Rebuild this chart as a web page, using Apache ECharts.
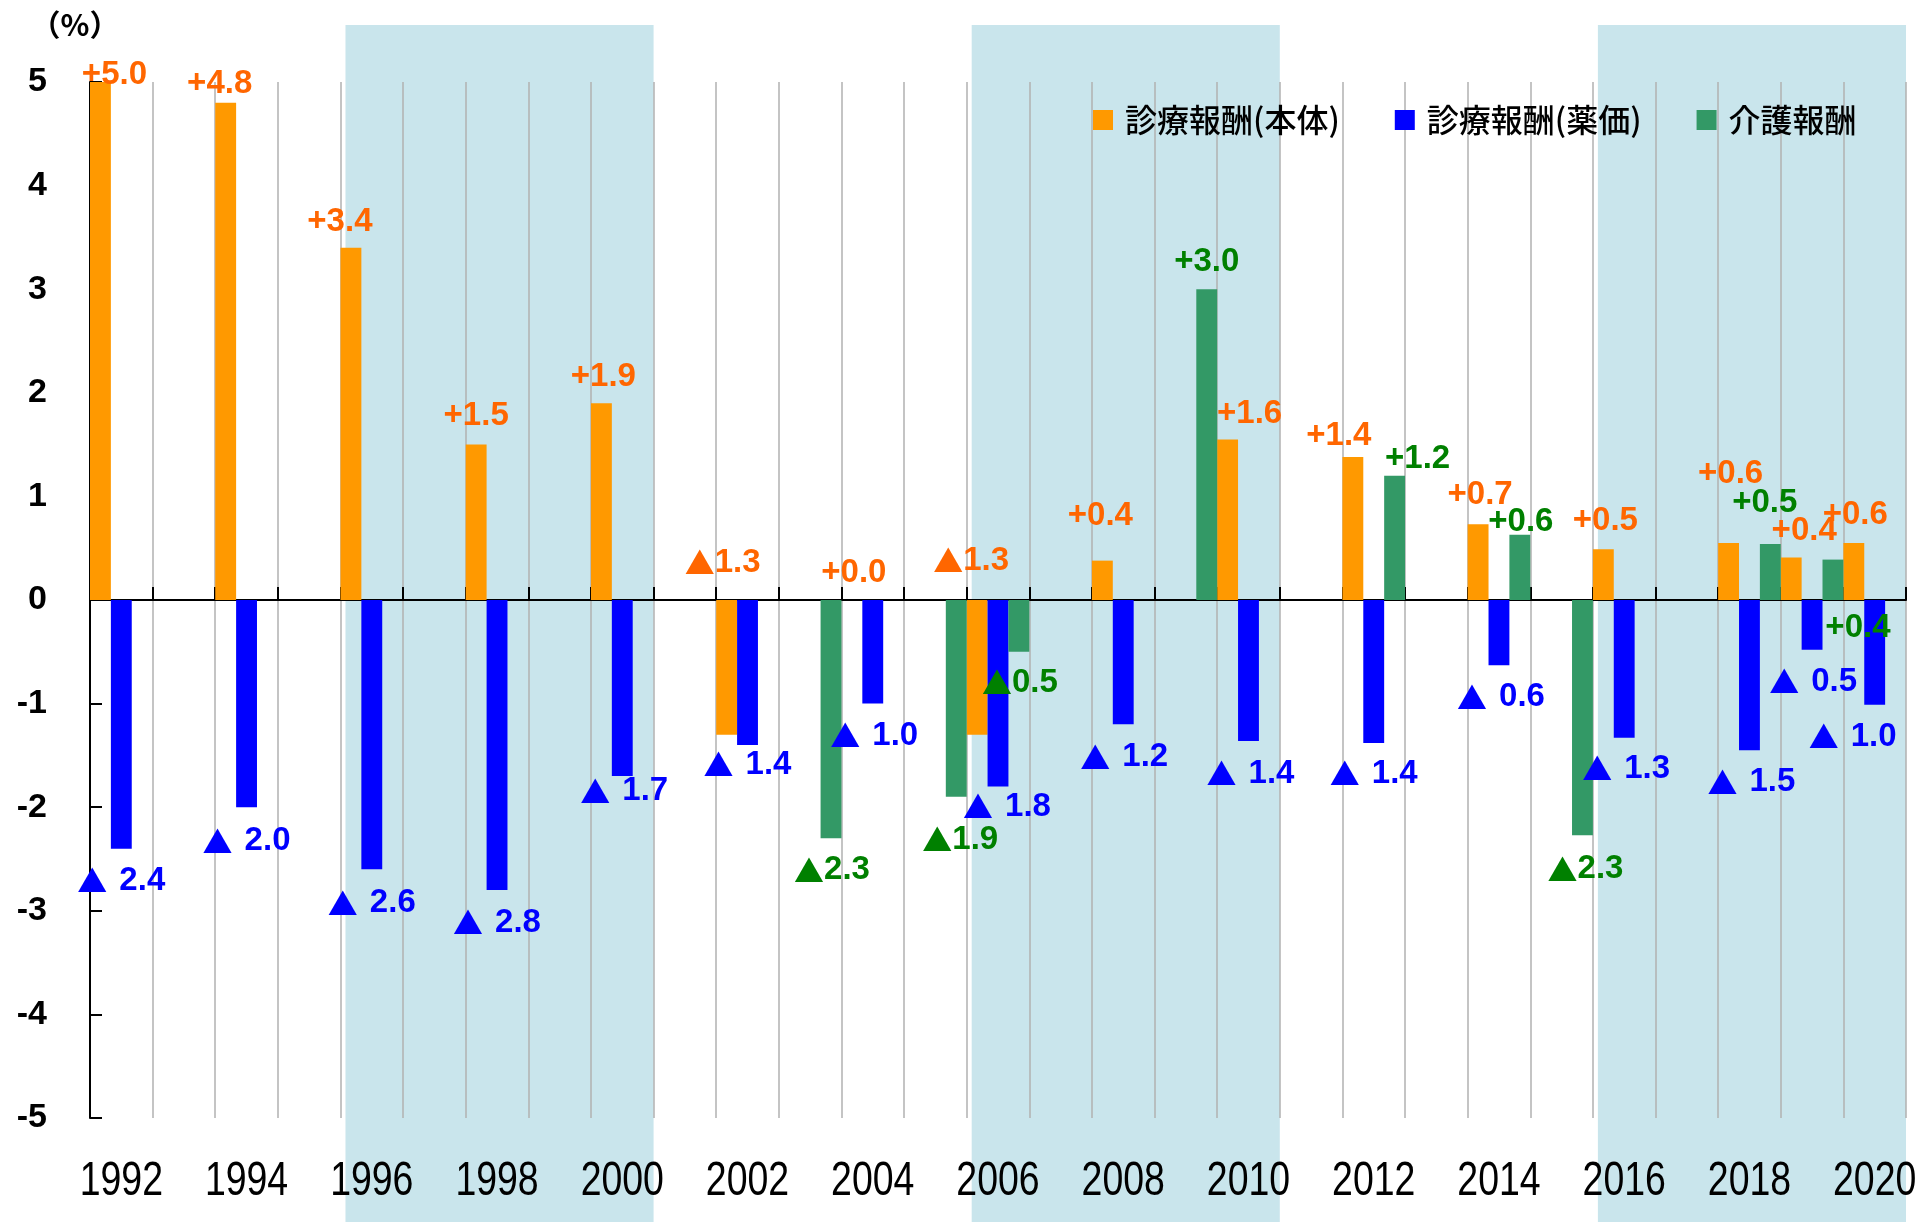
<!DOCTYPE html>
<html><head><meta charset="utf-8">
<script src="https://cdn.jsdelivr.net/npm/echarts@6/dist/echarts.min.js"></script>
<style>html,body{margin:0;padding:0;background:#fff}#c{width:1920px;height:1222px}</style>
</head><body><div id="c"></div>
<script>
// ---- data ----
const years = ['1992','1993','1994','1995','1996','1997','1998','1999','2000','2001','2002','2003','2004','2005','2006','2007','2008','2009','2010','2011','2012','2013','2014','2015','2016','2017','2018','2019','2020'];
const hontai = [5.0,null,4.8,null,3.4,null,1.5,null,1.9,null,-1.3,null,0.0,null,-1.3,null,0.38,null,1.55,null,1.38,null,0.73,null,0.49,null,0.55,0.41,0.55];
const yakka  = [-2.4,null,-2.0,null,-2.6,null,-2.8,null,-1.7,null,-1.4,null,-1.0,null,-1.8,null,-1.2,null,-1.36,null,-1.38,null,-0.63,null,-1.33,null,-1.45,-0.48,-1.01];
const kaigo  = [null,null,null,null,null,null,null,null,null,null,null,-2.3,null,-1.9,-0.5,null,null,3.0,null,null,1.2,null,0.63,-2.27,null,null,0.54,0.39,null];
const xTickLabels = ['1992','1994','1996','1998','2000','2002','2004','2006','2008','2010','2012','2014','2016','2018','2020'];
const seriesNames = ['診療報酬(本体)','診療報酬(薬価)','介護報酬'];
const shadedRanges = [['1996','2000'],['2006','2010'],['2016','2020']];

// ---- label nudges (dx, dy in px) ----
const nudges = {
  hontai: {'1992':[14,20],'1994':[-6,8],'1996':[-11,1],'1998':[0,-1.5],'2000':[2,1],'2002':[-4,1],'2004':[2,0],'2006':[-6,-1.5],'2008':[-2,-17.5],'2010':[22,1],'2012':[-14,6],'2014':[2,-2],'2016':[2,-1.5],'2018':[2,-42.5],'2019':[13,0],'2020':[1.5,-1]},
  yakka: {'1994':[0,2],'1996':[0,2],'1998':[0,1],'2000':[2,-17],'2002':[0,-12],'2004':[1.5,0],'2006':[9,-12],'2008':[1,1],'2010':[2,1],'2012':[0,-1],'2014':[2,0],'2016':[2,-1],'2018':[2,0],'2019':[1,0],'2020':[-22,0]},
  kaigo: {'2003':[1,0],'2005':[4,11],'2006':[1,-1],'2012':[23,10],'2014':[1,14],'2015':[3,2],'2018':[-5.5,-14],'2019':[25,95]}
};

const LABELFONT = "'Liberation Sans',Arial,sans-serif";
const CJK = "'Noto Sans CJK JP',sans-serif";

function makeData(values, key, negPos) {
  return values.map((v, i) => {
    if (v == null) return '-';
    const n = nudges[key][years[i]] || [0, 0];
    const neg = v < 0;
    let base;
    if (!neg) base = -27; else if (negPos === 'top') base = -38; else base = 32;
    return { value: v, label: { position: neg ? negPos : 'top', offset: [n[0], base + n[1]] } };
  });
}
function fmt(v) { return (Math.round(Math.abs(v) * 10 + 1e-7) / 10).toFixed(1); }
function makeLabel(color, triGap) {
  return {
    show: true, distance: 0, align: 'center', verticalAlign: 'middle',
    formatter: p => {
      const v = p.value;
      if (v >= 0) return '{num|+' + fmt(v) + '}';
      return '{tri|▲}{num|' + fmt(v) + '}';
    },
    rich: {
      num: { fontFamily: LABELFONT, fontSize: 33, fontWeight: 'bold', color: color },
      tri: { fontFamily: CJK, fontSize: 30, color: color, padding: [0, triGap, 0, 0] }
    }
  };
}

const chart = echarts.init(document.getElementById('c'), null, { renderer: 'canvas' });
const barCommon = { type: 'bar', barGap: '0%', barCategoryGap: '0%', xAxisIndex: 0, emphasis: { disabled: true } };
chart.setOption({
  animation: false,
  backgroundColor: '#fff',
  grid: { left: 90, top: 82, width: 1816, height: 1036, containLabel: false, outerBoundsMode: 'none' },
  legend: {
    left: 1088, top: 99, itemWidth: 20, itemHeight: 20, itemGap: 55, icon: 'rect',
    data: seriesNames,
    textStyle: { fontFamily: CJK, fontSize: 32, fontWeight: 500, color: '#000', padding: [0, 0, 0, 7] }
  },
  xAxis: {
    type: 'category', data: years, position: 'bottom',
    axisLine: { show: true, onZero: true, lineStyle: { color: '#000', width: 2 } },
    axisTick: { show: true, inside: true, length: 13, interval: 0, lineStyle: { color: '#000', width: 2 } },
    axisLabel: { show: false },
    splitLine: { show: true, interval: 0, lineStyle: { color: '#b0b0b0', width: 1.5 } }
  },
  yAxis: {
    type: 'value', min: -5, max: 5, interval: 1,
    name: '（%）', nameLocation: 'end', nameGap: 42,
    nameTextStyle: { fontSize: 30, fontFamily: CJK, color: '#000', fontWeight: 'bold', padding: [0, 30, 0, 0] },
    axisLine: { show: true, onZero: false, lineStyle: { color: '#000', width: 2 } },
    axisTick: { show: true, inside: true, length: 12, lineStyle: { color: '#000', width: 2 } },
    axisLabel: { fontSize: 34, fontWeight: 'bold', fontFamily: LABELFONT, color: '#000', margin: 43 },
    splitLine: { show: false }
  },
  series: [
    Object.assign({}, barCommon, { name: seriesNames[0], data: makeData(hontai, 'hontai', 'top'), itemStyle: { color: '#FF9900' }, label: makeLabel('#FF6600', 0) }),
    Object.assign({}, barCommon, { name: seriesNames[1], data: makeData(yakka, 'yakka', 'bottom'), itemStyle: { color: '#0000FF' }, label: makeLabel('#0000FF', 12) }),
    Object.assign({}, barCommon, { name: seriesNames[2], data: makeData(kaigo, 'kaigo', 'bottom'), itemStyle: { color: '#339966' }, label: makeLabel('#008000', 0) })
  ]
});

// shaded periods and condensed year labels, positioned through the category axis
const px = c => chart.convertToPixel({ xAxisIndex: 0 }, c);
const bw = px(years[1]) - px(years[0]);
const gridBottom = chart.convertToPixel({ yAxisIndex: 0 }, -5);
const shades = shadedRanges.map(([a, b]) => {
  const x0 = px(a) - bw / 2 + 5, x1 = px(b) + bw / 2;
  return { type: 'rect', z: -10, silent: true, shape: { x: x0, y: 25, width: x1 - x0, height: 1222 - 25 }, style: { fill: '#C9E5EC' } };
});
const yearTexts = xTickLabels.map(y => ({
  type: 'text', silent: true, x: px(y), y: gridBottom + 64, scaleX: 0.78, scaleY: 1,
  style: { text: y, fill: '#000', font: "48px 'Liberation Sans', Arial, sans-serif", textAlign: 'center', textVerticalAlign: 'middle' }
}));
chart.setOption({ graphic: shades.concat(yearTexts) });
</script></body></html>
